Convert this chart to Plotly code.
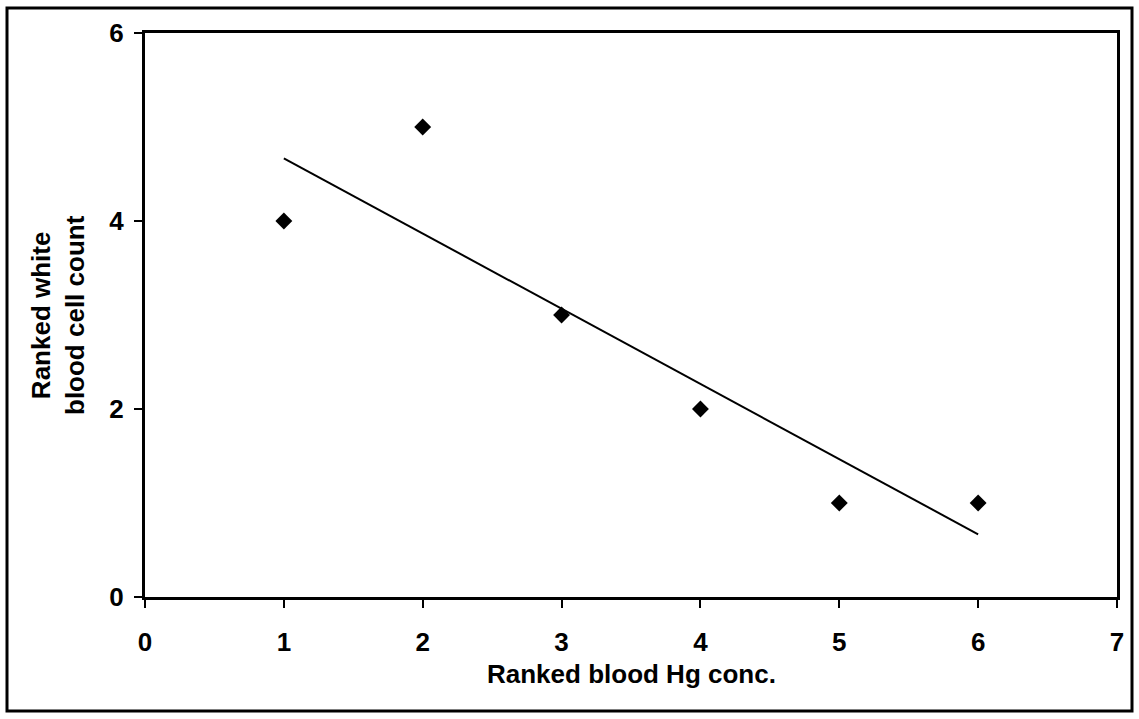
import plotly.graph_objects as go
import numpy as np

# Data
x_rank_hg = [1, 2, 3, 4, 5, 6]
y_rank_wbc = [4, 5, 3, 2, 1, 1]
x_ticks = [0, 1, 2, 3, 4, 5, 6, 7]
y_ticks = [0, 2, 4, 6]
x_title = "Ranked blood Hg conc."
y_title = "Ranked white<br>blood cell count"

# linear trendline (least squares)
slope, intercept = np.polyfit(x_rank_hg, y_rank_wbc, 1)
trend_x = [min(x_rank_hg), max(x_rank_hg)]
trend_y = [slope * v + intercept for v in trend_x]

FONT = "Arial, 'Liberation Sans', sans-serif"
FS = 26

fig = go.Figure()
fig.add_trace(go.Scatter(
    x=x_rank_hg, y=y_rank_wbc, mode="markers",
    marker=dict(symbol="diamond", size=13, color="black"),
    showlegend=False, hoverinfo="x+y"))
fig.add_trace(go.Scatter(
    x=trend_x, y=trend_y, mode="lines",
    line=dict(color="black", width=2),
    showlegend=False, hoverinfo="skip"))

W, H = 1139, 719
L, R, T, B = 145, 22, 33, 122
pw, ph = W - L - R, H - T - B

def px_to_paper_x(px):
    return (px - L) / pw

def px_to_paper_y(py):
    return (H - B - py) / ph

fig.update_layout(
    width=W, height=H,
    margin=dict(l=L, r=R, t=T, b=B, pad=0),
    paper_bgcolor="white", plot_bgcolor="white",
    font=dict(family=FONT, color="black"),
    xaxis=dict(range=[0, 7], tickvals=x_ticks, ticks="outside", ticklen=8,
               tickwidth=2, tickcolor="black", showgrid=False, zeroline=False,
               showline=True, linecolor="black", linewidth=3, mirror=True,
               tickfont=dict(family=FONT, size=FS, color="black", weight="bold"),
               ticklabelstandoff=12),
    yaxis=dict(range=[0, 6], tickvals=y_ticks, ticks="outside", ticklen=8,
               tickwidth=2, tickcolor="black", showgrid=False, zeroline=False,
               showline=True, linecolor="black", linewidth=3, mirror=True,
               tickfont=dict(family=FONT, size=FS, color="black", weight="bold"),
               ticklabelstandoff=5),
    shapes=[dict(type="rect", xref="paper", yref="paper",
                 x0=px_to_paper_x(7), x1=px_to_paper_x(1132),
                 y0=px_to_paper_y(711), y1=px_to_paper_y(8),
                 line=dict(color="black", width=3), fillcolor="rgba(0,0,0,0)",
                 layer="below")],
    annotations=[
        dict(text=x_title, xref="paper", yref="paper",
             x=0.5, y=px_to_paper_y(674), xanchor="center", yanchor="middle",
             showarrow=False, font=dict(family=FONT, size=FS, color="black", weight="bold")),
        dict(text=y_title, xref="paper", yref="paper", textangle=-90,
             x=px_to_paper_x(58), y=0.5, xanchor="center", yanchor="middle",
             showarrow=False, font=dict(family=FONT, size=FS, color="black", weight="bold")),
    ],
)

fig.write_html("out.html", config={"displayModeBar": False},
               post_script="document.body.style.margin='0';")
